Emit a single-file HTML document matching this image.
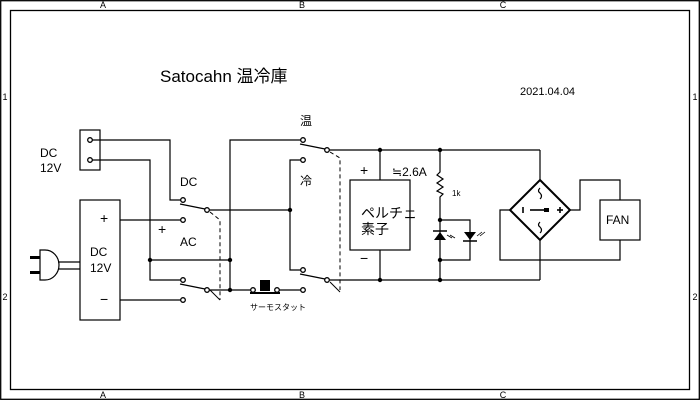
<!DOCTYPE html>
<html><head><meta charset="utf-8"><style>
html,body{margin:0;padding:0;background:#fff}
svg{display:block}
text{font-family:"Liberation Sans","Noto Sans CJK JP",sans-serif;fill:#000}
</style></head><body>
<svg width="700" height="400" viewBox="0 0 700 400" xmlns="http://www.w3.org/2000/svg">
<g fill="none" stroke="#000" stroke-width="1.3">
<rect x="0.7" y="0.7" width="698.6" height="398.6"/>
<rect x="10.5" y="10.5" width="679" height="379"/>
</g>
<g font-size="9" text-anchor="middle">
<text x="103" y="8">A</text><text x="302" y="8">B</text><text x="503" y="8">C</text>
<text x="103" y="398">A</text><text x="302" y="398">B</text><text x="503" y="398">C</text>
<text x="5" y="100">1</text><text x="5" y="300">2</text>
<text x="695" y="100">1</text><text x="695" y="300">2</text>
</g>
<text x="160" y="82" font-size="17">Satocahn 温冷庫</text>
<text x="520" y="95" font-size="11">2021.04.04</text>

<g fill="none" stroke="#000" stroke-width="1.2">
<rect x="80" y="130" width="20" height="40"/>
<polyline points="92,140 170,140 170,200 181,200"/>
<polyline points="92,160 150,160 150,280 181,280"/>
<rect x="80" y="200" width="40" height="120"/>
<line x1="120" y1="220" x2="181" y2="220"/>
<line x1="120" y1="300" x2="181" y2="300"/>
<path d="M40,250 L45,250 A14,15 0 0 1 45,280 L40,280 Z"/>
<line x1="58" y1="262" x2="80" y2="262"/><line x1="58" y1="269" x2="80" y2="269"/>
<line x1="180" y1="204" x2="205" y2="209"/>
<line x1="180" y1="284" x2="205" y2="289"/>
<line x1="209" y1="210" x2="290" y2="210"/>
<polyline points="209,290 251,290"/>
<line x1="150" y1="260" x2="230" y2="260"/>
<polyline points="230,290 230,140 301,140"/>
<line x1="250" y1="293" x2="280" y2="293" stroke-width="2"/>
<line x1="279" y1="290" x2="301" y2="290"/>
<line x1="300" y1="144" x2="325" y2="149"/>
<line x1="300" y1="274" x2="325" y2="279"/>
<polyline points="301,160 290,160 290,270 301,270"/>
<line x1="329" y1="150" x2="540" y2="150"/>
<line x1="329" y1="280" x2="540" y2="280"/>
<line x1="540" y1="150" x2="540" y2="180"/>
<line x1="540" y1="240" x2="540" y2="280"/>
<rect x="350" y="180" width="60" height="70"/>
<line x1="380" y1="150" x2="380" y2="180"/>
<line x1="380" y1="250" x2="380" y2="280"/>
<polyline points="440,150 440,172 437,175 443,179 437,183 443,187 437,191 443,194 440,197 440,280"/>
<polyline points="440,220 470,220 470,260 440,260"/>
<polygon points="540,180 570,210 540,240 510,210" stroke-width="2"/>
<polyline points="510,210 500,210 500,260 620,260 620,240"/>
<polyline points="570,210 580,210 580,180 620,180 620,200"/>
<rect x="600" y="200" width="40" height="40"/>
<path d="M540,188 q-3,3 0,5 q3,3 0,6" />
<path d="M540,222 q-3,3 0,5 q3,3 0,6" />
<line x1="530" y1="210" x2="546" y2="210" stroke-width="1.6"/>
<line x1="523" y1="207" x2="523" y2="213" stroke-width="1.6"/>
<line x1="557" y1="210" x2="563" y2="210" stroke-width="1.6"/><line x1="560" y1="207" x2="560" y2="213" stroke-width="1.6"/>
</g>
<rect x="544" y="208" width="5" height="4"/>
<g fill="none" stroke="#000" stroke-width="1" stroke-dasharray="4,3">
<polyline points="210,212 220,220 220,300"/>
<polyline points="330,152 340,158 340,290"/>
</g>
<line x1="210" y1="290" x2="220" y2="300" stroke="#000"/>
<line x1="330" y1="282" x2="340" y2="292" stroke="#000"/>
<rect x="260" y="280" width="10" height="11"/>
<polygon points="434,240 446,240 440,232"/><line x1="433" y1="231" x2="447" y2="231" stroke="#000" stroke-width="1.5"/>
<polygon points="464,232 476,232 470,240"/><line x1="463" y1="241" x2="477" y2="241" stroke="#000" stroke-width="1.5"/>
<g stroke="#000" stroke-width="0.8" fill="none">
<line x1="447" y1="235" x2="452" y2="238"/><line x1="450" y1="235" x2="455" y2="238"/>
<line x1="477" y1="236" x2="482" y2="232"/><line x1="480" y1="236" x2="485" y2="232"/>
</g>
<g fill="#000">
<circle cx="150" cy="260" r="2.2"/><circle cx="230" cy="260" r="2.2"/><circle cx="230" cy="290" r="2.2"/>
<circle cx="290" cy="210" r="2.2"/><circle cx="380" cy="150" r="2.2"/><circle cx="380" cy="280" r="2.2"/>
<circle cx="440" cy="150" r="2.2"/><circle cx="440" cy="280" r="2.2"/><circle cx="440" cy="220" r="2.2"/><circle cx="440" cy="260" r="2.2"/>
</g>
<g fill="#fff" stroke="#000" stroke-width="1.3">
<circle cx="90" cy="140" r="2.3"/><circle cx="90" cy="160" r="2.3"/>
<circle cx="183" cy="200" r="2.3"/><circle cx="207" cy="210" r="2.3"/><circle cx="183" cy="220" r="2.3"/>
<circle cx="183" cy="280" r="2.3"/><circle cx="207" cy="290" r="2.3"/><circle cx="183" cy="300" r="2.3"/>
<circle cx="253" cy="290" r="2.3"/><circle cx="277" cy="290" r="2.3"/>
<circle cx="303" cy="140" r="2.3"/><circle cx="327" cy="150" r="2.3"/><circle cx="303" cy="160" r="2.3"/>
<circle cx="303" cy="270" r="2.3"/><circle cx="327" cy="280" r="2.3"/><circle cx="303" cy="290" r="2.3"/>
</g>
<rect x="30" y="256" width="10" height="3"/><rect x="30" y="271" width="10" height="3"/>
<g font-size="12">
<text x="40" y="157">DC</text><text x="40" y="172">12V</text>
<text x="90" y="256">DC</text><text x="90" y="272">12V</text>
<text x="180" y="186">DC</text><text x="180" y="246">AC</text>
<text x="300" y="125">温</text><text x="300" y="185">冷</text>
<text x="361" y="218" font-size="14">ペルチェ</text><text x="361" y="234" font-size="14">素子</text>
<text x="392" y="176">≒2.6A</text>
<text x="606" y="224">FAN</text>
</g>
<g font-size="14">
<text x="100" y="223">+</text><text x="158" y="234">+</text><text x="100" y="304">−</text>
<text x="360" y="175">+</text><text x="360" y="263">−</text>
</g>
<text x="452" y="196" font-size="8">1k</text>
<text x="250" y="310" font-size="8">サーモスタット</text>
</svg>
</body></html>
